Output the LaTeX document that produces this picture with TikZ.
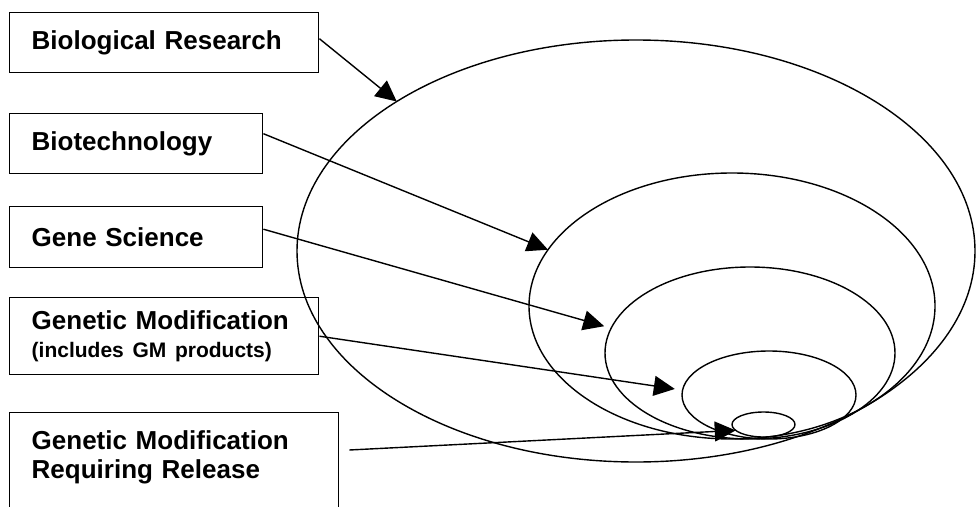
\documentclass[tikz,border=0pt]{standalone}
\usepackage{fontspec}
\setmainfont{Liberation Sans}
\usetikzlibrary{shapes.geometric,arrows.meta}

\tikzset{
  box/.style={draw, line width=1.4pt, anchor=north west, align=left, inner xsep=22pt,
    font=\bfseries\fontsize{26}{29}\selectfont},
  ring/.style={draw, ellipse, line width=1.4pt, inner sep=0pt, outer sep=0pt},
  link/.style={line width=1.4pt, -{Triangle[length=21pt,width=20pt]}}
}
\newcommand{\smalltext}[1]{{\fontsize{21}{24}\selectfont #1}}

\begin{document}
\begin{tikzpicture}[x=1pt,y=-1pt]
  \clip (0,0) rectangle (977,506);

  % Draw the labelled boxes
  \node[box, text width=265pt, minimum height=60pt] (bior) at (9,12) {Biological Research};
  \node[box, text width=209pt, minimum height=60pt] (biot) at (9,113) {Biotechnology};
  \node[box, text width=209pt, minimum height=61pt] (gene) at (9,206) {Gene Science};
  \node[box, text width=265pt, minimum height=77pt] (gm) at (9,297)
    {Genetic Modification\\[-1.5pt]\smalltext{(includes GM products)}};
  \node[box, text width=285pt, inner ysep=18pt] (gmr) at (9,412)
    {Genetic Modification\\Requiring Release\\[30pt]~};

  % Draw the nested sets
  \node[ring, minimum width=678pt, minimum height=422pt] (ebior) at (636,251) {};
  \node[ring, minimum width=406pt, minimum height=266pt] (ebiot) at (732,306) {};
  \node[ring, minimum width=290pt, minimum height=172pt] (egene) at (750,353) {};
  \node[ring, minimum width=174pt, minimum height=88pt] (egm) at (769,395) {};
  \node[ring, minimum width=63pt, minimum height=25pt] (egmr) at (763.5,424.5) {};

  % Add arrows
  \draw[link] ([yshift=4pt]bior.east) -- (ebior.148);
  \draw[link] ([yshift=10pt]biot.east) -- (ebiot.163);
  \draw[link] ([yshift=8pt]gene.east) -- ([xshift=-8pt]egene.169);
  \draw[link] (gm.east) -- ([xshift=-8pt]egm.176);
  \draw[link] ([shift={(10pt,-38pt)}]gmr.north east) -- (egmr.192);
\end{tikzpicture}
\end{document}
